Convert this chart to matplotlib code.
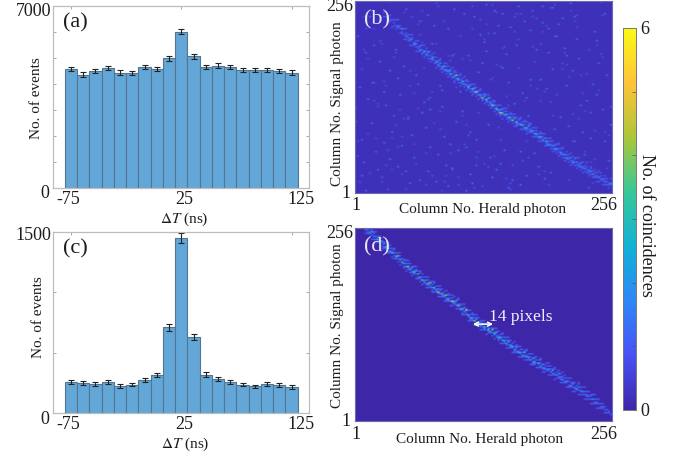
"""Two-photon timing histograms and herald/signal coincidence maps, (a)-(d)."""
import matplotlib
matplotlib.use("Agg")
import matplotlib.pyplot as plt
import numpy as np
from matplotlib.colors import LinearSegmentedColormap
from matplotlib.transforms import ScaledTranslation

plt.rcParams["font.family"] = ["Liberation Serif", "DejaVu Serif"]
plt.rcParams["mathtext.fontset"] = "stix"

W, H = 686, 457
DELTA_T = [-75.0, -63.9, -52.8, -41.7, -30.6, -19.4, -8.3, 2.8, 13.9, 25.0,
           36.1, 47.2, 58.3, 69.4, 80.6, 91.7, 102.8, 113.9, 125.0]
EVENTS_A = [4570, 4365, 4505, 4610, 4440, 4415, 4660, 4580, 4990, 6015,
            5070, 4660, 4710, 4660, 4545, 4530, 4545, 4490, 4440]
ERR_A = [85, 80, 85, 85, 80, 80, 85, 85, 90, 95, 90, 85, 85, 85, 85, 85, 85, 80, 80]
EVENTS_C = [260, 246, 243, 257, 224, 235, 276, 315, 709, 1450,
            630, 318, 284, 257, 235, 221, 243, 232, 213]
ERR_C = [16, 16, 16, 16, 15, 15, 17, 18, 27, 38, 25, 18, 17, 16, 15, 15, 16, 15, 15]

PARULA = [(0.2422, 0.1504, 0.6603), (0.2810, 0.3228, 0.9579), (0.1786, 0.5289, 0.9682),
          (0.0689, 0.6948, 0.8394), (0.2161, 0.7843, 0.5923), (0.6720, 0.7793, 0.2227),
          (0.9970, 0.7659, 0.2199), (0.9769, 0.9839, 0.0805)]

# coincidence maps, read off in 2x2 column bins (128 x 128): one strip of counts
# per column, going upward from one row below the start row
D_FIRST_COL = 6
D_START = [125, 124, 123, 122, 120, 119, 118, 117, 115, 114, 113, 112, 111, 110, 108, 107,
           106, 105, 104, 102, 101, 100, 99, 98, 97, 96, 95, 93, 92, 91, 90, 89,
           88, 87, 86, 85, 84, 83, 82, 81, 80, 79, 78, 77, 77, 76, 75, 73,
           72, 71, 70, 68, 67, 66, 65, 64, 63, 62, 61, 60, 59, 59, 58, 57,
           56, 55, 54, 53, 52, 51, 50, 49, 48, 47, 46, 45, 44, 43, 42, 42,
           41, 40, 39, 38, 37, 37, 36, 35, 34, 33, 33, 32, 31, 30, 29, 29,
           28, 27, 26, 25, 24, 23, 22, 21, 20, 20, 19, 18, 17, 16, 15, 14,
           13, 12, 11, 10, 9, 8, 7, 6, 5, 4, 3]
D_STRIPS = ["010120100", "001102010", "010210101", "100102100", "001020110", "010201001", "001130100", "100210010",
            "010101201", "001202100", "100130010", "011020101", "001201010", "100310100", "010102011", "001220100",
            "010104010", "100120101", "001301000", "011020110", "100201010", "001140101", "010210010", "101102100",
            "001320010", "100102101", "011030100", "010120011", "100401010", "001210100", "101102010", "010320101",
            "001104100", "110201010", "010130011", "001210100", "101502010", "010201101", "001130010", "100220100",
            "011104001", "001310110", "100201010", "010150101", "001220010", "101102100", "010410011", "001201100",
            "110130010", "010201101", "001105100", "100220010", "011301001", "001120110", "100401010", "010202101",
            "001130010", "101201100", "010114010", "001230101", "100101010", "011320100", "001201011", "010104100",
            "100230010", "001102101", "011210010", "100130100", "010301011", "001120100", "101201010", "010103101",
            "001220010", "100130100", "011201001", "001102110", "100310010", "010120101", "001201010", "101103100",
            "010210011", "001120100", "100201010", "011102001", "001220110", "100101010", "010130100", "001201011",
            "101102000", "010210100", "001101010", "100120101", "010201010", "001102100", "100110011", "010201000",
            "001102010", "101110100", "010201001", "001101010", "100120100", "011001010", "001201001", "100102100",
            "010110010", "001201000", "100102011", "010110100", "001020010", "100101001", "010210100", "001010010",
            "100101100", "010020010", "001101001", "100110100", "010010010", "001101000", "000110100", "010101000",
            "001010000", "000110000", "000100000"]

B_FIRST_COL = 15
B_START = [117, 116, 115, 113, 112, 111, 110, 109, 107, 106, 104, 103, 101, 100, 99, 98,
           96, 95, 94, 93, 92, 91, 90, 89, 88, 87, 85, 84, 83, 82, 81, 80,
           79, 78, 77, 76, 75, 74, 73, 72, 71, 70, 69, 68, 67, 66, 65, 64,
           63, 62, 61, 60, 59, 58, 57, 55, 54, 53, 52, 51, 51, 50, 49, 48,
           47, 46, 45, 45, 44, 43, 42, 41, 41, 40, 39, 38, 37, 36, 35, 34,
           33, 32, 31, 30, 29, 28, 27, 26, 25, 24, 23, 22, 21, 20, 19, 19,
           18, 17, 16, 15, 14, 14, 13, 12, 11, 10, 9, 8, 8, 7, 6, 5, 4, 4]
B_STRIPS = ["001001000", "000100100", "010010000", "000110010", "100001000", "001010100", "010100010", "000210001",
            "010010100", "001102000", "100100010", "010201001", "001010100", "100120010", "010001101", "001210000",
            "100102010", "010110001", "001201100", "011010010", "100130001", "001201010", "010102100", "101010010",
            "001220100", "010101001", "100130010", "001201100", "010102011", "101210000", "001103010", "010210101",
            "100120010", "001302100", "011010001", "100210110", "001104010", "010220100", "101010011", "001130100",
            "010201001", "100110110", "001320010", "010101100", "101130010", "001202101", "010150010", "100201100",
            "001120011", "011401000", "100102110", "001230010", "010101201", "101120010", "001410100", "010102011",
            "100230100", "001120010", "011502001", "100130110", "001201010", "010120101", "101301000", "001120110",
            "010401010", "100102101", "011230010", "001101100", "100310011", "010120100", "001201010", "101130001",
            "010102100", "001210011", "100120100", "010301010", "001120101", "101201000", "010130110", "001201010",
            "100102001", "011130100", "001201010", "010110101", "101020010", "001201100", "010120010", "100101001",
            "001210100", "010110011", "101020000", "001201010", "010110100", "100102001", "001210010", "010101100",
            "101020010", "001110001", "010201100", "100110010", "001020100", "010101001", "101110000", "001020110",
            "010201000", "001101010", "100110100", "010020001", "001101010", "100110000", "010201010", "001010100",
            "010110000", "000120010"]
B_BACKGROUND = 0.2
B_SPECK_COL = [4, 9, 13, 18, 23, 27, 33, 38, 44, 49, 55, 61, 66, 72, 77, 83, 88, 94, 99, 105,
               110, 116, 121, 126, 3, 8, 15, 20, 26, 31, 36, 42, 47, 53, 58, 64, 70, 75, 81, 86,
               92, 97, 103, 108, 114, 119, 124, 6, 11, 17, 22, 29, 35, 40, 46, 51, 57, 63, 68, 74,
               79, 85, 90, 96, 101, 107, 112, 118, 123, 127, 2, 7, 14, 19, 25, 30, 37, 43, 48, 54,
               59, 65, 71, 76, 82, 87, 93, 98, 104, 109, 115, 120, 125, 5, 10, 16, 21, 28, 34, 39,
               45, 50, 56, 62, 67, 73, 78, 84, 89, 95, 100, 106, 111, 117, 122, 1, 12, 24, 32, 41,
               52, 60, 69, 80, 91, 102, 113, 128, 6, 18, 27, 37, 49, 58, 70, 83, 94, 106, 118, 125,
               10, 22, 33, 44, 56, 66, 77, 88, 99, 110, 121, 4, 15, 26, 38, 47, 61, 74, 86, 97]
B_SPECK_ROW = [12, 47, 88, 23, 66, 104, 9, 31, 58, 17, 120, 36, 95, 112, 74, 6, 109, 125, 83, 97,
               118, 62, 102, 79, 71, 118, 34, 52, 15, 79, 44, 26, 5, 68, 13, 87, 122, 29, 99, 64,
               18, 110, 51, 127, 41, 73, 56, 94, 28, 3, 77, 39, 61, 112, 19, 48, 92, 106, 24, 84,
               9, 115, 27, 70, 105, 45, 90, 37, 128, 22, 105, 63, 11, 41, 85, 24, 119, 72, 33, 55,
               7, 101, 16, 93, 125, 52, 76, 14, 117, 82, 26, 108, 35, 21, 74, 59, 96, 7, 54, 100,
               38, 123, 2, 81, 46, 20, 111, 67, 122, 10, 43, 72, 103, 4, 87, 48, 16, 32, 73, 8,
               29, 118, 11, 60, 96, 113, 59, 46, 2, 82, 50, 15, 92, 41, 107, 28, 114, 92, 54, 120,
               99, 18, 115, 69, 31, 126, 4, 76, 124, 35, 66, 36, 68, 123, 56, 110, 19, 120, 12, 94]
B_FAINT_COL = [2, 5, 7, 10, 12, 14, 16, 19, 21, 24, 25, 28, 30, 32, 34, 36, 39, 41, 43, 45,
               48, 50, 52, 54, 57, 59, 60, 62, 65, 67, 69, 71, 73, 76, 78, 80, 82, 84, 87, 89,
               91, 93, 95, 98, 100, 102, 104, 107, 109, 111, 113, 115, 117, 120, 122, 124, 126, 128, 3, 6,
               9, 11, 13, 17, 20, 23, 26, 29, 31, 35, 37, 40, 42, 46, 51, 53, 55, 58, 61, 63,
               64, 68, 72, 75, 79, 81, 85, 90, 92, 96, 101, 103, 105, 108, 112, 116, 119, 123, 127, 1,
               4, 8, 15, 18, 22, 27, 33, 38, 44, 47, 49, 56, 66, 70, 74, 77, 83, 86, 88, 94,
               97, 99, 106, 110, 114, 118, 121, 125, 2, 7, 12, 16, 21, 25, 30, 34, 39, 43, 48, 52,
               57, 62, 67, 71, 76, 80, 85, 89, 93, 98, 102, 107, 111, 115, 120, 124, 5, 10, 14, 19,
               24, 28, 32, 36, 41, 45, 50, 54, 59, 65, 69, 73, 78, 82, 87, 91, 95, 100, 104, 109]
B_FAINT_ROW = [25, 96, 40, 110, 60, 8, 72, 37, 94, 13, 50, 82, 33, 57, 122, 6, 68, 100, 43, 115,
               27, 74, 11, 90, 39, 125, 4, 54, 103, 18, 77, 121, 36, 65, 7, 108, 84, 22, 47, 118,
               70, 100, 15, 61, 126, 34, 87, 9, 53, 111, 79, 28, 96, 42, 69, 119, 17, 58, 8, 110,
               74, 37, 102, 29, 91, 56, 3, 118, 20, 84, 63, 47, 125, 12, 71, 105, 33, 89, 24, 116,
               5, 76, 44, 98, 19, 120, 62, 88, 13, 112, 66, 30, 94, 122, 50, 80, 7, 93, 39, 57,
               83, 14, 75, 128, 31, 51, 106, 64, 2, 92, 16, 46, 113, 25, 97, 59, 120, 35, 72, 108,
               6, 52, 86, 115, 67, 21, 99, 41, 35, 90, 58, 19, 46, 121, 67, 101, 12, 55, 89, 6,
               75, 28, 107, 86, 10, 118, 49, 98, 62, 124, 30, 78, 119, 55, 23, 91, 118, 62, 100, 16,
               38, 72, 113, 27, 127, 8, 93, 52, 110, 20, 126, 85, 3, 103, 24, 117, 68, 105, 83, 35]

HIST_BLUE = "#62a7d8"
BAR_EDGE = "#54748f"
SPINE = "#bdbdbd"
INK = "#1c1c1c"


def ax_px(left, top, right, bottom):
    return fig.add_axes([left / W, 1 - bottom / H, (right - left) / W, (bottom - top) / H])


def txt_px(x, y, s, **kw):
    kw.setdefault("ha", "center")
    kw.setdefault("va", "center")
    fig.text(x / W, 1 - y / H, s, color=INK, **kw)


def nudge(labels, offsets):
    for lab, (dx, dy) in zip(labels, offsets):
        lab.set_transform(lab.get_transform() + ScaledTranslation(dx / 100, dy / 100, fig.dpi_scale_trans))


def hist_panel(box, events, err, ymax, ystep, tag, y_nudge):
    ax = ax_px(*box)
    ax.bar(DELTA_T, events, width=11.11, color=HIST_BLUE, edgecolor=BAR_EDGE, linewidth=0.8)
    ax.errorbar(DELTA_T, events, yerr=err, fmt="none", ecolor="#222222", elinewidth=0.8,
                capsize=2.4, capthick=0.8)
    ax.set_xlim(-91.3, 140.8)
    ax.set_ylim(0, ymax)
    ax.set_xticks([-75, 25, 125], ["-75", "25", "125"], fontsize=13, color=INK)
    yt = np.arange(0, ymax + 1, ystep)
    ax.set_yticks(yt, [f"{v:d}" if v in (0, ymax) else "" for v in yt], fontsize=13, color=INK)
    ax.tick_params(axis="both", direction="in", length=2, width=0.6, color="#999999",
                   top=True, right=True, pad=2)
    nudge(ax.get_xticklabels(), [(-3, 0), (3, 0), (9, 0)])
    offsets = [(0, 0)] * len(yt)
    offsets[0], offsets[-1] = (-1, -4), (1, y_nudge)
    nudge(ax.get_yticklabels(), offsets)
    for s in ax.spines.values():
        s.set_color(SPINE)
        s.set_linewidth(0.9)
    ax.text(0.04, 0.905, tag, transform=ax.transAxes, fontsize=16, va="center", color=INK)
    return ax


def map_panel(box, grid, tag, x_drop):
    ax = ax_px(*box)
    im = ax.imshow(grid, origin="lower", cmap=cmap, vmin=0, vmax=6, aspect="auto",
                   extent=(1, 256, 1, 256), interpolation="bilinear")
    ax.set_xticks([1, 256], ["1", "256"], fontsize=13, color=INK)
    ax.set_yticks([1, 256], ["1", "256"], fontsize=13, color=INK)
    ax.tick_params(length=0, pad=1)
    nudge(ax.get_xticklabels(), [(1, -x_drop), (-8, -x_drop)])
    nudge(ax.get_yticklabels(), [(-3, 2), (0, -3)])
    for s in ax.spines.values():
        s.set_color("#6a6ab0")
        s.set_linewidth(0.8)
    ax.text(0.035, 0.9, tag, transform=ax.transAxes, fontsize=16, va="center", color="#e8e8f4")
    return ax, im


def fill_strips(grid, first_col, starts, strips):
    for k, (start, strip) in enumerate(zip(starts, strips)):
        col = first_col + k - 1
        for j, ch in enumerate(strip):
            row = start + j - 2
            if row < 128:
                grid[row, col] = max(grid[row, col], int(ch))


fig = plt.figure(figsize=(W / 100, H / 100), dpi=100)
cmap = LinearSegmentedColormap.from_list("parula_like", PARULA)

hist_panel((53, 6, 309, 188), EVENTS_A, ERR_A, 7000, 1000, "(a)", -3)
hist_panel((53, 232, 309, 413), EVENTS_C, ERR_C, 1500, 500, "(c)", -1)
txt_px(36, 98, "No. of events", fontsize=11, rotation=90)
txt_px(38, 317, "No. of events", fontsize=11, rotation=90)
txt_px(184, 219, r"$\Delta T$ (ns)", fontsize=11)
txt_px(185, 444, r"$\Delta T$ (ns)", fontsize=11)

grid_b = np.full((128, 128), B_BACKGROUND)
for c, r in zip(B_FAINT_COL, B_FAINT_ROW):
    grid_b[r - 1, c - 1] = 0.8
for c, r in zip(B_SPECK_COL, B_SPECK_ROW):
    grid_b[r - 1, c - 1] = 1.3
fill_strips(grid_b, B_FIRST_COL, B_START, B_STRIPS)
grid_d = np.zeros((128, 128))
fill_strips(grid_d, D_FIRST_COL, D_START, D_STRIPS)

map_panel((355, 1, 612, 193), grid_b, "(b)", 3)
ax_d, im_d = map_panel((355, 228, 612, 421), grid_d, "(d)", 4)

txt_px(338, 104, "Column No. Signal photon", fontsize=11, rotation=90)
txt_px(338, 326, "Column No. Signal photon", fontsize=11, rotation=90)
txt_px(483, 209, "Column No. Herald photon", fontsize=11)
txt_px(480, 439, "Column No. Herald photon", fontsize=11)

# 14 pixel marker across the ridge in (d), drawn in column/row units
ax_d.annotate("", xy=(118, 129), xytext=(138, 129),
              arrowprops=dict(arrowstyle="<->", color="white", lw=1.1, mutation_scale=7,
                              shrinkA=0, shrinkB=0))
ax_d.text(134, 139, "14 pixels", color="#f0f0f8", fontsize=12.5, va="center")

cax = ax_px(623, 28, 636, 410)
cb = fig.colorbar(im_d, cax=cax)
cb.set_ticks(range(7), labels=["0", "", "", "", "", "", "6"], fontsize=13, color=INK)
cb.ax.tick_params(direction="in", length=3, width=0.5, color="#555555", pad=3)
cb.outline.set_edgecolor("#777777")
cb.outline.set_linewidth(0.7)
txt_px(646, 225, "No. of coincidences", fontsize=13, rotation=270)

fig.savefig("out.png", dpi=100)
plt.close(fig)
